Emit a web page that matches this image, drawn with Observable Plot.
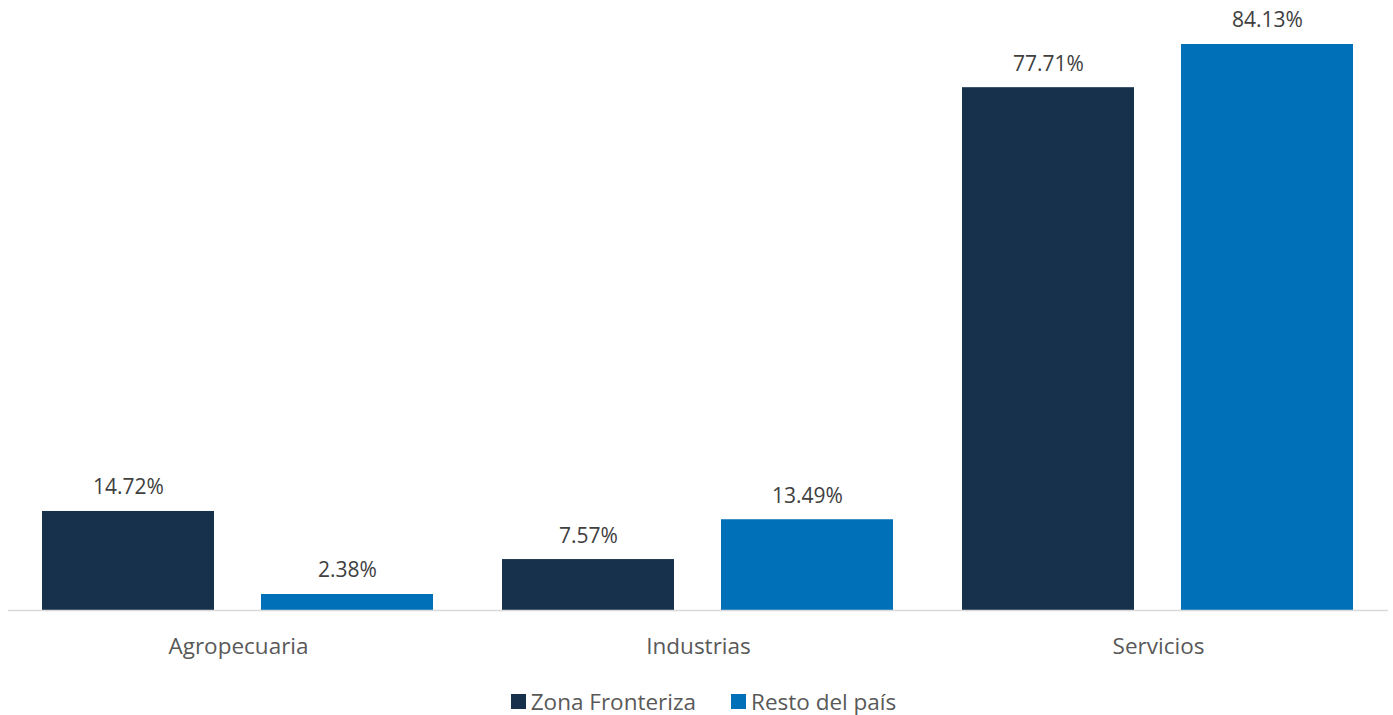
<!DOCTYPE html>
<html>
<head>
<meta charset="utf-8">
<script src="https://cdn.jsdelivr.net/npm/d3@7"></script>
<script src="https://cdn.jsdelivr.net/npm/@observablehq/plot@0.6"></script>
<style>
  body { margin: 0; background: #fff; font-family: "Open Sans", "Noto Sans", sans-serif; }
  #legend { display: flex; justify-content: center; gap: 35px; font-size: 22.5px; color: #595959; margin-top: 14px; margin-left: 14px; }
  #legend span.item { display: flex; align-items: center; }
  #legend span.sw { display: inline-block; width: 15px; height: 15px; margin-right: 5px; }
</style>
</head>
<body>
<div id="chart"></div>
<div id="legend"></div>
<script>
const categories = ["Agropecuaria", "Industrias", "Servicios"];
const seriesNames = ["Zona Fronteriza", "Resto del país"];
const zonaFronteriza = [14.72, 7.57, 77.71];
const restoDelPais = [2.38, 13.49, 84.13];
const colors = ["#17304C", "#0070B8"];

const data = [];
categories.forEach((c, i) => {
  data.push({cat: c, serie: seriesNames[0], value: zonaFronteriza[i]});
  data.push({cat: c, serie: seriesNames[1], value: restoDelPais[i]});
});

const chart = Plot.plot({
  width: 1393,
  height: 672,
  marginLeft: 8,
  marginRight: 5,
  marginTop: 4.5,
  marginBottom: 62,
  style: {fontFamily: "'Open Sans', 'Noto Sans', sans-serif", background: "#fff"},
  fx: {domain: categories, padding: 0, label: null, axis: null},
  x: {domain: seriesNames, paddingInner: 0.2146, paddingOuter: 0.1575, axis: null},
  y: {domain: [0, 90], axis: null},
  color: {domain: seriesNames, range: colors},
  marks: [
    Plot.barY(data, {fx: "cat", x: "serie", y: "value", fill: "serie"}),
    Plot.ruleY([0], {stroke: "#d9d9d9", strokeWidth: 1.5}),
    Plot.text(data, {fx: "cat", x: "serie", y: "value", text: d => d.value.toFixed(2) + "%", dy: -17, lineAnchor: "bottom", fontSize: 21, fill: "#404040"}),
    Plot.axisFx({domain: categories, tickSize: 0, tickPadding: 28, fontSize: 22.5, label: null, color: "#595959", anchor: "bottom"})
  ]
});
document.getElementById("chart").appendChild(chart);

const legend = document.getElementById("legend");
seriesNames.forEach((s, i) => {
  const item = document.createElement("span");
  item.className = "item";
  item.innerHTML = `<span class="sw" style="background:${colors[i]}"></span>${s}`;
  legend.appendChild(item);
});
</script>
</body>
</html>
